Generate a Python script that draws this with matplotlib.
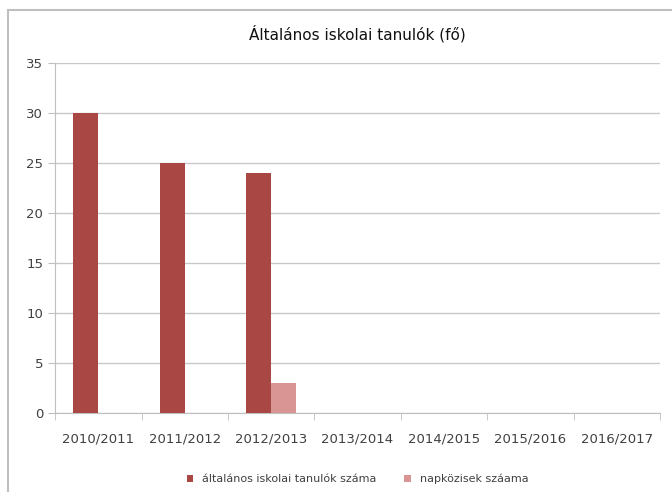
import matplotlib
matplotlib.use("Agg")
import matplotlib.pyplot as plt
import numpy as np
from matplotlib.patches import Rectangle

# data
years = ['2010/2011', '2011/2012', '2012/2013', '2013/2014', '2014/2015', '2015/2016', '2016/2017']
tanulok = [30, 25, 24, 0, 0, 0, 0]
napkozisek = [0, 0, 3, 0, 0, 0, 0]

fig = plt.figure(figsize=(6.72, 4.92), dpi=100)
ax = fig.add_axes([0.082, 0.161, 0.9, 0.711])

# chart frame like the excel chart area
fig.patches.append(Rectangle((0.012, -0.1), 1.2, 1.08, transform=fig.transFigure,
                             fill=False, edgecolor='#bfbfbf', linewidth=1.5))

x = np.arange(len(years))
w = 0.29
ax.bar(x - w / 2, tanulok, w, color='#a94745', label='általános iskolai tanulók száma', zorder=3)
ax.bar(x + w / 2, napkozisek, w, color='#d99594', label='napközisek száama', zorder=3)

ax.set_xlim(-0.5, len(years) - 0.5)
ax.set_ylim(0, 35)
ax.set_yticks(range(0, 36, 5))
ax.yaxis.grid(True, color='#c8c8c8', linewidth=1, zorder=0)
ax.set_xticks(x)
ax.set_xticklabels(years)
ax.set_xticks(np.arange(-0.5, len(years)), minor=True)
ax.tick_params(axis='x', which='major', length=0, pad=14, labelsize=9.5, colors='#404040')
ax.tick_params(axis='x', which='minor', length=5, color='#bfbfbf')
ax.tick_params(axis='y', length=5, color='#bfbfbf', labelsize=9.5, colors='#404040')
for s in ['top', 'right']:
    ax.spines[s].set_visible(False)
ax.spines['left'].set_color('#bfbfbf')
ax.spines['bottom'].set_color('#bfbfbf')

ax.set_title('Általános iskolai tanulók (fő)', fontsize=11, pad=17, color='#111111')

ax.legend(loc='upper center', bbox_to_anchor=(0.5, -0.145), ncol=2, frameon=False,
          fontsize=8, handlelength=0.6, handleheight=0.6, columnspacing=2.5,
          labelcolor='#404040')

fig.savefig('out.png', dpi=100)
